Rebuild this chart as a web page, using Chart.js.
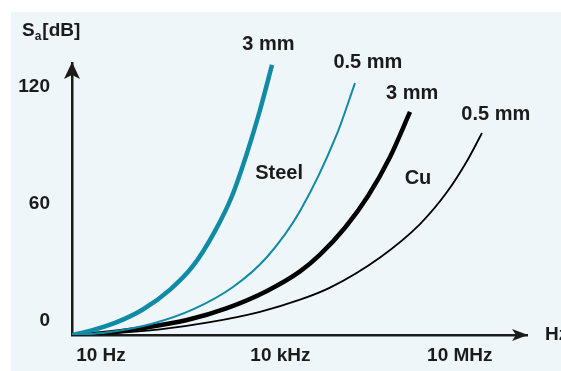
<!DOCTYPE html>
<html>
<head>
<meta charset="utf-8">
<script src="https://cdn.jsdelivr.net/npm/chart.js@4.4.0/dist/chart.umd.min.js"></script>
<style>
  html, body { margin: 0; padding: 0; background: #fff; }
</style>
</head>
<body>
<canvas id="chart" width="561" height="371"></canvas>
<script>
// axis ticks
const freqTicks = [10, 1e4, 1e7];
const freqLabels = ['10 Hz', '10 kHz', '10 MHz'];
const dbTicks = [0, 60, 120];
const dbLabels = ['0', '60', '120'];

// shielding attenuation curves (frequency in Hz, attenuation in dB)
const steel3Hz = [3.27, 6.5, 17.1, 50, 143, 345, 805, 1550, 2760, 4560, 7240];
const steel3Db = [0, 2.1, 6.2, 13.1, 23.3, 35.4, 53.3, 71.3, 93.3, 115.4, 138.5];

const steel05Hz = [4.1, 14.2, 74, 345, 1610, 5970, 21300, 88300, 176600];
const steel05Db = [0, 1.5, 5.9, 13.1, 24.6, 40.0, 63.6, 103.1, 129.2];

const cu3Hz = [3.8, 9.6, 50, 274, 1280, 5970, 21300, 45900, 120000, 292000, 681000, 1470000];
const cu3Db = [0, 0.8, 3.6, 7.7, 13.8, 22.6, 32.6, 41.2, 55.0, 71.3, 91.3, 114.4];

const cu05Hz = [3.8, 14.2, 97, 665, 4560, 21300, 67500, 464000, 2160000, 6110000, 13200000, 23500000];
const cu05Db = [0, 0.8, 2.9, 6.6, 11.9, 18.1, 24.3, 39.8, 56.9, 73.3, 89.2, 103.6];

// text labels anchored in data space
const noteTexts = ['3 mm', '0.5 mm', '3 mm', '0.5 mm', 'Steel', 'Cu'];
const noteHz = [6280, 290000, 1600000, 40000000, 9500, 2000000];
const noteDb = [149, 140, 124, 113, 83, 80.5];

const teal = '#0f8ba5';
const ink = '#1b1b1b';
const bg = '#eff6fa';

function pts(xs, ys) {
  return xs.map((x, i) => ({ x: x, y: ys[i] }));
}

const backdrop = {
  id: 'backdrop',
  beforeDraw(chart) {
    const c = chart.ctx;
    c.save();
    c.fillStyle = '#fff';
    c.fillRect(0, 0, chart.width, chart.height);
    c.fillStyle = bg;
    c.fillRect(11, 12, chart.width - 11, chart.height - 12);
    c.restore();
  }
};

const extras = {
  id: 'extras',
  afterDraw(chart) {
    const c = chart.ctx;
    const a = chart.chartArea;
    const xs = chart.scales.x;
    const ys = chart.scales.y;
    c.save();
    c.fillStyle = ink;

    // arrow heads
    c.beginPath();
    c.moveTo(a.left, a.top - 1);
    c.lineTo(a.left - 8, a.top + 16);
    c.lineTo(a.left, a.top + 12);
    c.lineTo(a.left + 8, a.top + 16);
    c.closePath();
    c.fill();

    c.beginPath();
    c.moveTo(a.right + 1, a.bottom);
    c.lineTo(a.right - 15, a.bottom - 6);
    c.lineTo(a.right - 11, a.bottom);
    c.lineTo(a.right - 15, a.bottom + 6);
    c.closePath();
    c.fill();

    // curve notes
    c.font = 'bold 20px "Liberation Sans", Arial, sans-serif';
    c.textAlign = 'center';
    c.textBaseline = 'middle';
    noteTexts.forEach((t, i) => {
      c.fillText(t, xs.getPixelForValue(noteHz[i]), ys.getPixelForValue(noteDb[i]));
    });

    // axis titles
    c.textAlign = 'left';
    c.font = 'bold 19px "Liberation Sans", Arial, sans-serif';
    let x = 22;
    c.fillText('S', x, 31);
    x += c.measureText('S').width;
    c.font = 'bold 12px "Liberation Sans", Arial, sans-serif';
    c.fillText('a', x, 37);
    x += c.measureText('a').width + 1;
    c.font = 'bold 19px "Liberation Sans", Arial, sans-serif';
    c.fillText('[dB]', x, 31);
    c.fillText('Hz', 545, a.bottom);
    c.restore();
  }
};

const tickFont = { family: '"Liberation Sans", Arial, sans-serif', size: 19, weight: 'bold' };

new Chart(document.getElementById('chart'), {
  type: 'scatter',
  data: {
    datasets: [
      { label: 'Steel 3 mm', data: pts(steel3Hz, steel3Db), borderColor: teal, borderWidth: 4.5 },
      { label: 'Steel 0.5 mm', data: pts(steel05Hz, steel05Db), borderColor: teal, borderWidth: 2 },
      { label: 'Cu 3 mm', data: pts(cu3Hz, cu3Db), borderColor: '#000', borderWidth: 4.5 },
      { label: 'Cu 0.5 mm', data: pts(cu05Hz, cu05Db), borderColor: '#000', borderWidth: 1.8 }
    ]
  },
  options: {
    responsive: false,
    animation: false,
    showLine: true,
    elements: {
      point: { radius: 0 },
      line: { cubicInterpolationMode: 'monotone', borderCapStyle: 'butt' }
    },
    layout: { padding: { top: 63, right: 34, left: 0, bottom: 0 } },
    plugins: { legend: { display: false }, tooltip: { enabled: false } },
    scales: {
      x: {
        type: 'logarithmic',
        min: 3.27,
        max: 1.33e8,
        grid: { display: false, drawTicks: false },
        border: { display: true, color: ink, width: 2.5 },
        afterBuildTicks: s => { s.ticks = freqTicks.map(v => ({ value: v })); },
        afterFit: s => { s.height = 36; },
        ticks: {
          autoSkip: false,
          maxRotation: 0,
          padding: 9,
          color: ink,
          font: tickFont,
          callback: (v, i) => freqLabels[i]
        }
      },
      y: {
        type: 'linear',
        min: 0,
        max: 139.5,
        grid: { display: false, drawTicks: false },
        border: { display: true, color: ink, width: 2.5 },
        afterBuildTicks: s => { s.ticks = dbTicks.map(v => ({ value: v })); },
        afterFit: s => { s.width = 72; },
        ticks: {
          padding: 22,
          labelOffset: -14,
          color: ink,
          font: tickFont,
          callback: (v, i) => dbLabels[i]
        }
      }
    }
  },
  plugins: [backdrop, extras]
});
</script>
</body>
</html>
